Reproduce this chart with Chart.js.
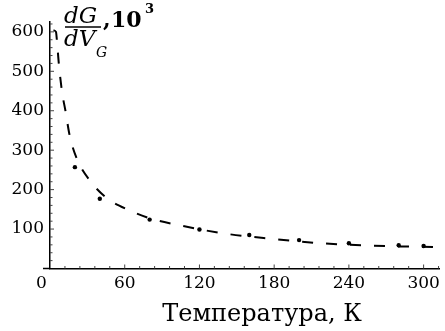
<!DOCTYPE html>
<html>
<head>
<meta charset="utf-8">
<script src="https://cdn.jsdelivr.net/npm/chart.js@4"></script>
<style>
html,body{margin:0;padding:0;background:#fff;}
#wrap{width:445px;height:331px;position:relative;}
</style>
</head>
<body>
<div id="wrap"><canvas id="c" width="445" height="331"></canvas></div>
<script>
// Fitted (dashed) curve: temperature (K) and dG/dV_G (x10^3)
const curveT = [2.8, 4.8, 5.5, 7.1, 9.7, 12.4, 15.8, 21.6, 33, 46.2, 63.3, 80.5, 100.3, 139.4, 179, 217.7, 257, 313];
const curveY = [604, 600, 580, 519, 447, 400, 337, 278, 219, 177, 148, 127, 112, 89, 75, 64, 58, 54];
// Measured points
const pointT = [20, 40, 80, 120, 160, 200, 240, 280, 300];
const pointY = [257, 177, 124, 99, 85, 72, 64, 59, 57];
// Tick labels
const xTicks = [0, 60, 120, 180, 240, 300];
const yTicks = [100, 200, 300, 400, 500, 600];
const xTitle = 'Температура, К';

const SERIF = '"DejaVu Serif", "Liberation Serif", serif';

const extras = {
  id: 'extras',
  afterDraw(chart) {
    const ctx = chart.ctx;
    const xs = chart.scales.x, ys = chart.scales.y;
    const ca = chart.chartArea;
    ctx.save();
    // x axis extension to the left of the origin
    ctx.strokeStyle = '#000';
    ctx.lineWidth = 1.5;
    ctx.beginPath();
    ctx.moveTo(ca.left - 7, ys.getPixelForValue(0));
    ctx.lineTo(ca.left, ys.getPixelForValue(0));
    ctx.stroke();
    // inward ticks
    ctx.lineWidth = 1;
    ctx.strokeStyle = '#444';
    const y0 = ys.getPixelForValue(0);
    for (let v = 12; v <= xs.max; v += 12) {
      const px = xs.getPixelForValue(v);
      const len = (v % 60 === 0) ? 4 : 2.5;
      ctx.beginPath(); ctx.moveTo(px, y0); ctx.lineTo(px, y0 - len); ctx.stroke();
    }
    const x0 = xs.getPixelForValue(0);
    for (let v = 20; v <= ys.max; v += 20) {
      const py = ys.getPixelForValue(v);
      const len = (v % 100 === 0) ? 4 : 2.5;
      ctx.beginPath(); ctx.moveTo(x0, py); ctx.lineTo(x0 + len, py); ctx.stroke();
    }
    // x-axis title
    ctx.fillStyle = '#000';
    ctx.font = '24px ' + SERIF;
    ctx.textAlign = 'center';
    ctx.textBaseline = 'alphabetic';
    ctx.fillText(xTitle, 262, 321);
    // y-axis title: dG/dV_G, 10^3
    ctx.textAlign = 'left';
    ctx.font = 'italic 23px ' + SERIF;
    ctx.fillText('dG', 64, 23);
    ctx.fillText('dV', 64, 46);
    ctx.font = 'italic 14px ' + SERIF;
    ctx.fillText('G', 96, 57);
    ctx.lineWidth = 1.5;
    ctx.strokeStyle = '#000';
    ctx.beginPath(); ctx.moveTo(65, 27); ctx.lineTo(101, 27); ctx.stroke();
    ctx.font = 'bold 22px ' + SERIF;
    ctx.fillText(',', 103, 27);
    ctx.fillText('10', 111, 27);
    ctx.font = 'bold 13px ' + SERIF;
    ctx.fillText('3', 145, 13);
    ctx.restore();
  }
};

new Chart(document.getElementById('c'), {
  type: 'scatter',
  data: {
    datasets: [
      {
        label: 'fit',
        data: curveT.map((t, i) => ({x: t, y: curveY[i]})),
        showLine: true,
        borderColor: '#000',
        borderWidth: 2,
        borderDash: [11, 13],
        pointRadius: 0,
        fill: false,
        cubicInterpolationMode: 'monotone'
      },
      {
        label: 'data',
        data: pointT.map((t, i) => ({x: t, y: pointY[i]})),
        showLine: false,
        pointRadius: 2.2,
        pointBackgroundColor: '#000',
        pointBorderColor: '#000',
        pointBorderWidth: 0
      }
    ]
  },
  options: {
    responsive: false,
    animation: false,
    clip: false,
    layout: {padding: {top: 22, right: 0, left: 0, bottom: 0}},
    plugins: {legend: {display: false}, tooltip: {enabled: false}},
    scales: {
      x: {
        type: 'linear',
        min: 0, max: 313,
        afterBuildTicks: s => { s.ticks = xTicks.map(v => ({value: v})); },
        afterFit: s => { s.height = 62.5; },
        grid: {display: false, drawTicks: false},
        border: {display: true, color: '#000', width: 1.5},
        ticks: {
          color: '#000', padding: 5, font: {family: SERIF, size: 17},
          maxRotation: 0, autoSkip: false,
          callback: v => (v === 0 ? '0\u2002\u2002' : String(v))
        }
      },
      y: {
        type: 'linear',
        min: 0, max: 625,
        afterBuildTicks: s => { s.ticks = yTicks.map(v => ({value: v})); },
        afterFit: s => { s.width = 50; },
        grid: {display: false, drawTicks: false},
        border: {display: true, color: '#000', width: 1.5},
        ticks: {color: '#000', padding: 6, font: {family: SERIF, size: 17}, autoSkip: false}
      }
    }
  },
  plugins: [extras]
});
</script>
</body>
</html>
